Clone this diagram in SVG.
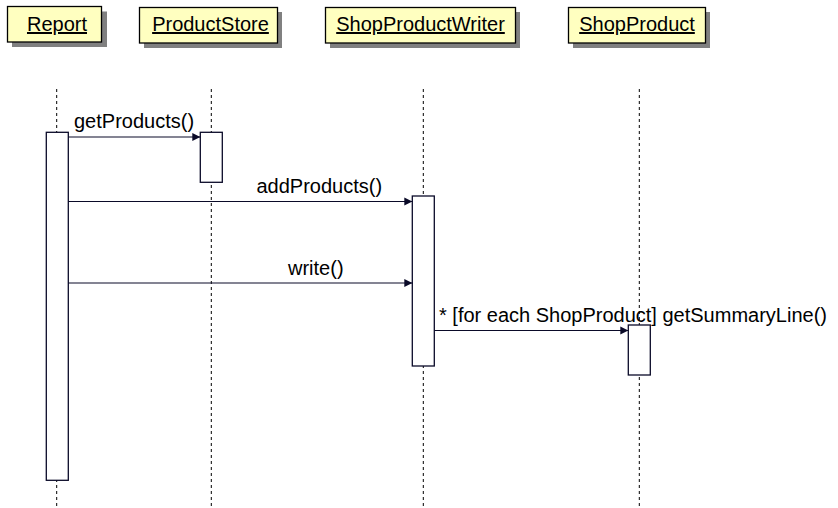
<svg xmlns="http://www.w3.org/2000/svg" width="838" height="508" viewBox="0 0 838 508">
<defs>
<marker id="arr" markerWidth="9" markerHeight="9" refX="8" refY="4.5" orient="auto" markerUnits="userSpaceOnUse">
<path d="M0,0.5 L8,4.5 L0,8.5 Z" fill="#0a0a28"/>
</marker>
</defs>
<style>
.hdr{fill:#ffffc0;stroke:#000;stroke-width:1.3}
.shd{fill:#808080}
.t{font-family:"Liberation Sans",Arial,sans-serif;font-size:20px;fill:#000}
.u{text-decoration:underline}
.life{stroke:#000;stroke-width:1;stroke-dasharray:3,3;fill:none}
.act{fill:#fff;stroke:#0a0a28;stroke-width:1.3}
.msg{stroke:#0a0a28;stroke-width:1.2;fill:none;marker-end:url(#arr)}
</style>
<rect width="838" height="508" fill="#fff"/>
<g id="lifelines">
<line class="life" x1="56.7" y1="89" x2="56.7" y2="508"/>
<line class="life" x1="211.3" y1="89" x2="211.3" y2="508"/>
<line class="life" x1="423.3" y1="89" x2="423.3" y2="508"/>
<line class="life" x1="639.3" y1="89" x2="639.3" y2="508"/>
</g>
<g id="Report">
<rect class="shd" x="12" y="11.5" width="95" height="35.5"/>
<rect class="hdr" x="7.5" y="6.5" width="94" height="35.5"/>
<text class="t u" x="57" y="31" text-anchor="middle">Report</text>
</g>
<g id="ProductStore">
<rect class="shd" x="144" y="12" width="138" height="36"/>
<rect class="hdr" x="139.5" y="7.5" width="138" height="35.5"/>
<text class="t u" x="210.5" y="31" text-anchor="middle">ProductStore</text>
</g>
<g id="ShopProductWriter">
<rect class="shd" x="330" y="12" width="190" height="36"/>
<rect class="hdr" x="325.5" y="7.5" width="190" height="35.5"/>
<text class="t u" x="420.5" y="31" text-anchor="middle">ShopProductWriter</text>
</g>
<g id="ShopProduct">
<rect class="shd" x="573" y="12" width="137" height="36"/>
<rect class="hdr" x="568.5" y="7.5" width="137" height="35.5"/>
<text class="t u" x="637" y="31" text-anchor="middle">ShopProduct</text>
</g>
<g id="activations">
<rect class="act" x="46.3" y="132.3" width="22" height="348"/>
<rect class="act" x="200.3" y="132.3" width="22" height="50"/>
<rect class="act" x="412.3" y="196" width="22" height="170"/>
<rect class="act" x="628.3" y="325" width="22" height="50"/>
</g>
<g id="connectors">
<line class="msg" x1="68.3" y1="137" x2="200.3" y2="137"/>
<line class="msg" x1="68.3" y1="201.5" x2="412.3" y2="201.5"/>
<line class="msg" x1="68.3" y1="283" x2="412.3" y2="283"/>
<line class="msg" x1="434.3" y1="330.5" x2="628.3" y2="330.5"/>
</g>
<g id="labels">
<text class="t" x="74" y="127.5">getProducts()</text>
<text class="t" x="256.5" y="193">addProducts()</text>
<text class="t" x="288" y="275">write()</text>
<text class="t" x="439" y="321.5">* [for each ShopProduct] getSummaryLine()</text>
</g>
</svg>
